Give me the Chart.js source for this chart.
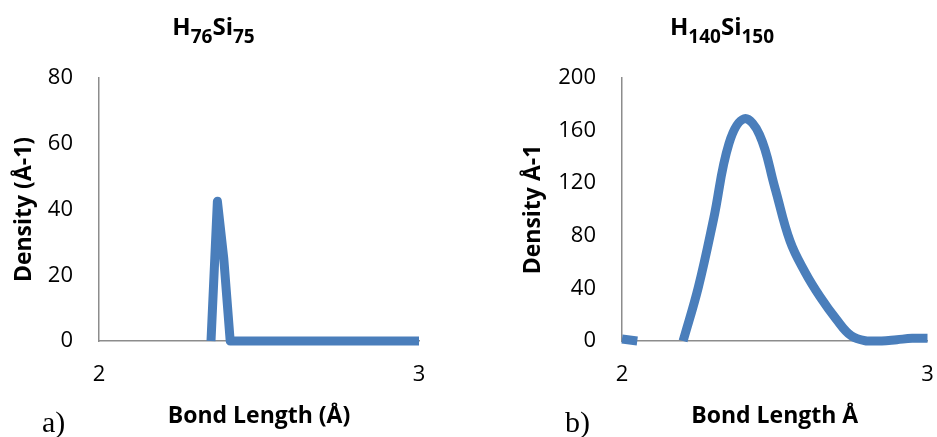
<!DOCTYPE html>
<html>
<head>
<meta charset="utf-8">
<script src="https://cdn.jsdelivr.net/npm/chart.js@4/dist/chart.umd.min.js"></script>
<style>
  html, body { margin: 0; padding: 0; background: #fff; }
  #page { position: relative; width: 937px; height: 437px; overflow: hidden; }
  canvas { position: absolute; top: 0; }
  .ttl { position: absolute; top: 14px; text-align: center; font-family: "Open Sans", sans-serif;
         font-weight: 700; font-size: 24px; line-height: 24px; color: #000; white-space: nowrap; }
  .ttl span { position: relative; top: 8px; font-size: 19px; }
  .tag { position: absolute; top: 407px; font-family: "Liberation Serif", serif; font-size: 30px;
         line-height: 30px; color: #000; }
</style>
</head>
<body>
<div id="page">
  <canvas id="left" width="440" height="437" style="left:0"></canvas>
  <canvas id="right" width="457" height="437" style="left:480px"></canvas>
  <div class="ttl" style="left:0;width:427px">H<span>76</span>Si<span>75</span></div>
  <div class="ttl" style="left:522px;width:400px">H<span>140</span>Si<span>150</span></div>
  <div class="tag" style="left:42px">a)</div>
  <div class="tag" style="left:565px">b)</div>
</div>
<script>
// Bond-length density, H76Si75 (straight segments)
const leftBond = [2.35, 2.37, 2.39, 2.41, 2.50, 2.60, 2.70, 2.80, 2.90, 3.00];
const leftDensity = [0, 42.5, 25, 0, 0, 0, 0, 0, 0, 0];
const leftYTicks = [0, 20, 40, 60, 80];

// Bond-length density, H140Si150 (smoothed)
const rightBond = [2.00, 2.05, 2.10, 2.15, 2.20, 2.25, 2.30, 2.35, 2.40, 2.45, 2.50,
                   2.55, 2.60, 2.65, 2.70, 2.75, 2.80, 2.85, 2.90, 2.95, 3.00];
const rightDensity = [1.5, 0, null, null, 0, 41, 93, 150, 169, 157, 117,
                      76, 52, 33, 17, 4, 0, 0, 1, 2, 2];
const rightYTicks = [0, 40, 80, 120, 160, 200];

const xTicks = [2, 3];

const LINE = '#4A7EBB';
const AXIS = '#8c8c8c';
const tickFont = { family: 'Open Sans', size: 22 };
const titleFont = { family: 'Open Sans', size: 23, weight: 'bold', lineHeight: 1.2 };

function makeChart(id, xs, ys, yTicks, yTitle, xTitle, geo, smooth) {
  return new Chart(document.getElementById(id), {
    type: 'line',
    data: {
      datasets: [{
        data: xs.map((x, i) => ({ x: x, y: ys[i] })),
        borderColor: LINE,
        borderWidth: 9,
        borderJoinStyle: 'round',
        pointRadius: 0,
        pointHoverRadius: 0,
        spanGaps: false,
        clip: 10,
        tension: smooth ? 0.4 : 0
      }]
    },
    options: {
      responsive: false,
      animation: false,
      events: [],
      layout: { padding: { top: 78, right: geo.padRight, left: 0, bottom: 0 } },
      plugins: { legend: { display: false }, tooltip: { enabled: false }, title: { display: false } },
      scales: {
        x: {
          type: 'linear',
          min: xTicks[0],
          max: xTicks[xTicks.length - 1],
          afterBuildTicks: s => { s.ticks = xTicks.map(v => ({ value: v })); },
          afterFit: s => { s.height = 96; s.paddingLeft = 0; s.paddingRight = 0; },
          grid: { display: false, drawTicks: false },
          border: { display: true, color: AXIS, width: 1.5 },
          ticks: { font: tickFont, color: '#000', padding: 21, maxRotation: 0 },
          title: { display: true, text: xTitle, font: titleFont, color: '#000',
                   padding: { top: 0, bottom: 7 } }
        },
        y: {
          type: 'linear',
          min: yTicks[0],
          max: yTicks[yTicks.length - 1],
          afterBuildTicks: s => { s.ticks = yTicks.map(v => ({ value: v })); },
          afterFit: s => { s.width = geo.yWidth; },
          grid: { display: false, drawTicks: false },
          border: { display: true, color: AXIS, width: 1.5 },
          ticks: { font: tickFont, color: '#000', padding: 26 },
          title: { display: true, text: yTitle, font: titleFont, color: '#000',
                   padding: { top: geo.yTitlePad, bottom: 0 } }
        }
      }
    }
  });
}

makeChart('left', leftBond, leftDensity, leftYTicks, 'Density (Å-1)', 'Bond Length (Å)',
          { padRight: 21, yWidth: 99, yTitlePad: 11 }, false);
makeChart('right', rightBond, rightDensity, rightYTicks, 'Density Å-1', 'Bond Length Å',
          { padRight: 9.5, yWidth: 142, yTitlePad: 40 }, true);
</script>
</body>
</html>
